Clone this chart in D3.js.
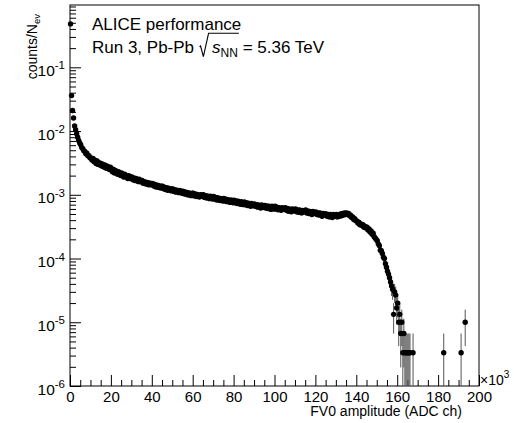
<!DOCTYPE html>
<html>
<head>
<meta charset="utf-8">
<script src="https://cdn.jsdelivr.net/npm/d3@7"></script>
<style>
  body { margin: 0; background: #fff; }
  text { font-family: "Liberation Sans", Arial, Helvetica, sans-serif; }
</style>
</head>
<body>
<div id="chart"></div>
<script>
const svgWidth = 514
const svgHeight = 423
const margin = {left: 70, right: 35, top: 5, bottom: 37}
const width = svgWidth - margin.left - margin.right
const height = svgHeight - margin.top - margin.bottom

const nEvents = 3e5
const binWidth = 0.5   // in units of 10^3 ADC ch

// counts/Nev per 0.5k bin, one row per 5k
const countsPerEvent = [
  0.48, 0.036, 0.021, 0.016, 0.012, 0.0105, 0.0091, 0.0080, 0.0071, 0.0065,
  0.0061, 0.0055, 0.0053, 0.0049, 0.0048, 0.0044, 0.0045, 0.0041, 0.0041, 0.0038,
  0.0038, 0.0035, 0.0037, 0.0033, 0.0035, 0.0031, 0.0034, 0.0030, 0.0032, 0.0029,
  0.0031, 0.0028, 0.0030, 0.0027, 0.0029, 0.0026, 0.0028, 0.0027, 0.0025, 0.0027,
  0.0026, 0.0023, 0.0025, 0.0022, 0.0024, 0.0023, 0.0021, 0.0023, 0.0022, 0.0020,
  0.0022, 0.0020, 0.0019, 0.0021, 0.0019, 0.0020, 0.0018, 0.0020, 0.0018, 0.0019,
  0.00190, 0.00172, 0.00183, 0.00168, 0.00180, 0.00174, 0.00162, 0.00176, 0.00160, 0.00168,
  0.00168, 0.00152, 0.00161, 0.00149, 0.00158, 0.00146, 0.00155, 0.00143, 0.00152, 0.00147,
  0.00151, 0.00138, 0.00146, 0.00134, 0.00143, 0.00131, 0.00140, 0.00136, 0.00128, 0.00137,
  0.00136, 0.00124, 0.00131, 0.00121, 0.00129, 0.00118, 0.00127, 0.00123, 0.00116, 0.00124,
  0.00124, 0.00113, 0.00120, 0.00110, 0.00118, 0.00115, 0.00108, 0.00117, 0.00111, 0.00106,
  0.00114, 0.00104, 0.00111, 0.00102, 0.00109, 0.00099, 0.00107, 0.00103, 0.00097, 0.00106,
  0.00106, 0.00096, 0.00103, 0.00094, 0.00101, 0.00097, 0.00092, 0.00100, 0.00095, 0.00099,
  0.00100, 0.00091, 0.00097, 0.00089, 0.00096, 0.00092, 0.00087, 0.00095, 0.00090, 0.00086,
  0.00094, 0.00086, 0.00091, 0.00083, 0.00090, 0.00085, 0.00081, 0.00088, 0.00084, 0.00080,
  0.00088, 0.00080, 0.00085, 0.00078, 0.00084, 0.00080, 0.00076, 0.00083, 0.00079, 0.00075,
  0.00082, 0.00075, 0.00080, 0.00073, 0.00079, 0.00075, 0.00071, 0.00078, 0.00074, 0.00070,
  0.00077, 0.00070, 0.00075, 0.00068, 0.00074, 0.00070, 0.00066, 0.00073, 0.00069, 0.00067,
  0.00072, 0.00066, 0.00070, 0.00064, 0.00069, 0.00066, 0.00062, 0.00069, 0.00065, 0.00063,
  0.00068, 0.00062, 0.00067, 0.00061, 0.00066, 0.00063, 0.00059, 0.00066, 0.00062, 0.00060,
  0.00066, 0.00060, 0.00064, 0.00058, 0.00063, 0.00060, 0.00057, 0.00063, 0.00059, 0.00061,
  0.00063, 0.00057, 0.00061, 0.00055, 0.00060, 0.00058, 0.00054, 0.00060, 0.00056, 0.00058,
  0.00060, 0.00054, 0.00058, 0.00053, 0.00058, 0.00055, 0.00052, 0.00057, 0.00054, 0.00056,
  0.00058, 0.00052, 0.00056, 0.00051, 0.00055, 0.00053, 0.00049, 0.00055, 0.00051, 0.00053,
  0.00054, 0.00049, 0.00052, 0.00048, 0.00052, 0.00049, 0.00046, 0.00051, 0.00048, 0.00050,
  0.00050, 0.00046, 0.00049, 0.00045, 0.00049, 0.00047, 0.00044, 0.00049, 0.00046, 0.00048,
  0.00049, 0.00045, 0.00048, 0.00046, 0.00050, 0.00047, 0.00051, 0.00048, 0.00052, 0.00049,
  0.00052, 0.00049, 0.00051, 0.00047, 0.00048, 0.00044, 0.00045, 0.00041, 0.00042, 0.00039,
  0.00039, 0.00036, 0.00037, 0.00034, 0.00035, 0.00033, 0.00034, 0.00031, 0.00032, 0.00030,
  0.00031, 0.00028, 0.00029, 0.00026, 0.00027, 0.00024, 0.00025, 0.00022, 0.00021, 0.00020,
  0.00019, 0.00017, 0.00016, 0.000135, 0.000133, 0.00012, 0.000105, 0.00010, 8.3e-5, 7.3e-5,
  6.3e-5, 5.7e-5, 5.0e-5, 4.3e-5, 3.7e-5, 3.3e-5, 1.33e-5, 3.0e-5, 2.67e-5, 1.67e-5,
  2.0e-5, 1.0e-5, 1.33e-5, 6.67e-6, 1.0e-5, 3.33e-6, 6.67e-6, 3.33e-6, 3.33e-6, 3.33e-6,
  3.33e-6, 3.33e-6, 3.33e-6, 0, 0, 3.33e-6, 0, 0, 0, 0
]

// isolated entries far in the tail
const tailAmplitude = [182.75, 191.25, 193.25]
const tailCounts = [3.33e-6, 3.33e-6, 1.0e-5]

const xMajorTicks = [0, 20, 40, 60, 80, 100, 120, 140, 160, 180, 200]
const yDecades = [1e-6, 1e-5, 1e-4, 1e-3, 1e-2, 1e-1]

let data = countsPerEvent.map((v, i) => ({amp: (i + 0.5) * binWidth, val: v}))
    .concat(tailAmplitude.map((a, i) => ({amp: a, val: tailCounts[i]})))
    .filter(d => d.val > 0)

let svg = d3.select('#chart')
    .append('svg')
    .attr('width', svgWidth)
    .attr('height', svgHeight)

let plot = svg.append('g')
    .attr('transform', `translate(${margin.left},${margin.top})`)

let xScale = d3.scaleLinear().domain([0, 200]).range([0, width])
let yScale = d3.scaleLog().domain([1e-6, 0.95]).range([height, 0])

plot.append('clipPath').attr('id', 'frame-clip')
    .append('rect').attr('width', width).attr('height', height)

// x axis: major + minor ticks pointing inside
let xMinor = d3.range(0, 201, 5).filter(d => d % 20 != 0)
plot.append('g')
    .attr('transform', `translate(0,${height})`)
    .call(d3.axisBottom(xScale).tickValues(xMinor).tickSize(-6).tickFormat(''))
plot.append('g')
    .attr('id', 'x-axis')
    .attr('transform', `translate(0,${height})`)
    .call(d3.axisBottom(xScale).tickValues(xMajorTicks).tickSize(-11).tickPadding(5))

// y axis
let yMinor = []
yDecades.forEach(dec => d3.range(2, 10).forEach(m => { if (m * dec <= 0.95) yMinor.push(m * dec) }))
plot.append('g')
    .call(d3.axisLeft(yScale).tickValues(yMinor).tickSize(-6).tickFormat(''))
plot.append('g')
    .attr('id', 'y-axis')
    .call(d3.axisLeft(yScale).tickValues(yDecades).tickSize(-11).tickPadding(5))

plot.selectAll('.domain').remove()
plot.selectAll('.tick line').attr('stroke', '#000').attr('stroke-width', 1)
plot.selectAll('.tick text').attr('font-size', 15).attr('font-family', '"Liberation Sans", Arial, sans-serif').attr('fill', '#000')

plot.select('#y-axis').selectAll('.tick text')
    .attr('font-size', 15.5)
    .attr('dy', '0.52em')
    .each(function(d){
        let t = d3.select(this).text(null)
        t.append('tspan').text('10')
        t.append('tspan').attr('dy', -6.5).attr('font-size', 11.5).text('-' + Math.round(-Math.log10(d)))
    })

// frame
plot.append('rect')
    .attr('width', width)
    .attr('height', height)
    .attr('fill', 'none')
    .attr('stroke', '#000')
    .attr('stroke-width', 1)

// error bars (clipped to the frame), then markers
plot.append('g').attr('clip-path', 'url(#frame-clip)')
    .selectAll('.err')
    .data(data)
    .join('line')
    .attr('class', 'err')
    .attr('x1', d => xScale(d.amp))
    .attr('x2', d => xScale(d.amp))
    .attr('y1', d => {
        let err = Math.sqrt(d.val * nEvents) / nEvents
        return yScale(Math.max(d.val - err, 1e-6))
    })
    .attr('y2', d => yScale(d.val + Math.sqrt(d.val * nEvents) / nEvents))
    .attr('stroke', '#555')
    .attr('stroke-width', 1)

plot.append('g')
    .selectAll('circle')
    .data(data)
    .join('circle')
    .attr('cx', d => xScale(d.amp))
    .attr('cy', d => yScale(d.val))
    .attr('r', 2.7)
    .attr('fill', '#000')

// axis titles
svg.append('text')
    .attr('x', 462)
    .attr('y', 416)
    .attr('text-anchor', 'end')
    .attr('font-size', 14)
    .text('FV0 amplitude (ADC ch)')

let mult = svg.append('text')
    .attr('x', 480)
    .attr('y', 385)
    .attr('font-size', 14)
mult.append('tspan').text('\u00d710')
mult.append('tspan').attr('dy', -7).attr('font-size', 10).text('3')

let yTitle = svg.append('text')
    .attr('transform', 'translate(37,14) rotate(-90)')
    .attr('text-anchor', 'end')
    .attr('font-size', 14)
yTitle.append('tspan').text('counts/N')
yTitle.append('tspan').attr('dy', 3).attr('font-size', 9.5).text('ev')

// labels
svg.append('text')
    .attr('x', 92)
    .attr('y', 30)
    .attr('font-size', 17)
    .text('ALICE performance')

let run = svg.append('text')
    .attr('x', 92)
    .attr('y', 53.3)
    .attr('font-size', 17)
run.append('tspan').text('Run 3, Pb-Pb')
run.append('tspan').attr('dx', 18).attr('font-style', 'italic').text('s')
run.append('tspan').attr('dy', 4).attr('font-size', 12).text('NN')
run.append('tspan').attr('dy', -4).text(' = 5.36 TeV')

let xs = run.node().getStartPositionOfChar(12).x
let xe = run.node().getEndPositionOfChar(14).x
let yb = 53.3
svg.append('path')
    .attr('d', `M${xs - 12.5},${yb - 6.5} L${xs - 11.5},${yb - 7.3} L${xs - 8.7},${yb + 3.4} L${xs - 3.5},${yb - 20} L${xe + 1},${yb - 20}`)
    .attr('fill', 'none')
    .attr('stroke', '#000')
    .attr('stroke-width', 1.1)
</script>
</body>
</html>
